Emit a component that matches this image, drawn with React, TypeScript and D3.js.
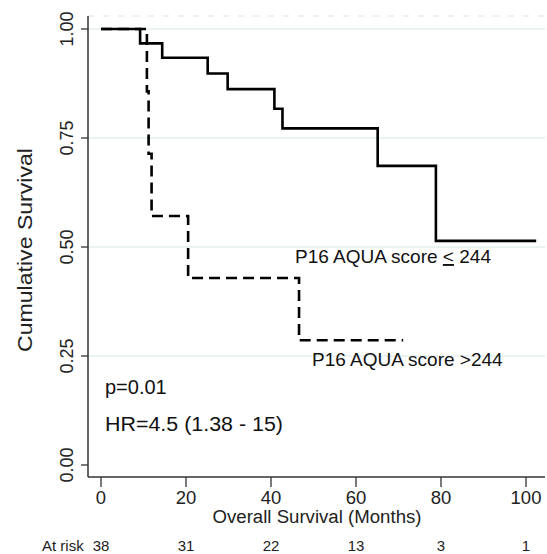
import React from "react";
import * as d3 from "d3";

const W = 547;
const H = 554;

// Kaplan-Meier step data (months, survival)
const lowTimes = [0, 9.2, 14.4, 25.1, 29.8, 40.8, 42.7, 65.1, 78.8];
const lowSurv = [1, 0.967, 0.934, 0.898, 0.862, 0.817, 0.772, 0.686, 0.514];
const lowEnd = 102.4;

const highTimes = [0, 10.8, 11.2, 11.9, 20.5, 46.6];
const highSurv = [1, 0.857, 0.714, 0.571, 0.429, 0.286];
const highEnd = 71.1;

const xTicks = [0, 20, 40, 60, 80, 100];
const yTicks = [0, 0.25, 0.5, 0.75, 1];
const yGrid = [0.25, 0.5, 0.75, 1];
const atRisk = [38, 31, 22, 13, 3, 1];

const FONT = "'Liberation Sans', Arial, sans-serif";

function stepPoints(times: number[], surv: number[], end: number): [number, number][] {
  const pts: [number, number][] = times.map((t, i) => [t, surv[i]]);
  pts.push([end, surv[surv.length - 1]]);
  return pts;
}

export default function App() {
  const x = d3.scaleLinear().domain([0, 100]).range([101, 526]);
  const y = d3.scaleLinear().domain([0, 1]).range([465, 29]);
  const plotL = 88;
  const plotR = 545;
  const plotT = 16;
  const plotB = 477;

  const line = d3
    .line<[number, number]>()
    .x((d) => x(d[0]))
    .y((d) => y(d[1]))
    .curve(d3.curveStepAfter);

  const lowPath = line(stepPoints(lowTimes, lowSurv, lowEnd)) || "";
  const highPath = line(stepPoints(highTimes, highSurv, highEnd)) || "";

  return (
    <svg
      width={W}
      height={H}
      style={{ position: "absolute", left: 0, top: 0, background: "#fff" }}
      fontFamily={FONT}
    >
      <rect x={0} y={0} width={W} height={H} fill="#fff" />
      {/* top dashed border */}
      <line x1={plotL} x2={plotR} y1={plotT} y2={plotT} stroke="#e0e0e0" strokeWidth={1} strokeDasharray="6,9" />
      {/* gridlines */}
      {yGrid.map((v) => (
        <line key={v} x1={plotL} x2={plotR} y1={y(v)} y2={y(v)} stroke="#e4eeee" strokeWidth={1.3} />
      ))}
      {/* axes */}
      <line x1={plotL} x2={plotL} y1={plotT} y2={plotB} stroke="#333" strokeWidth={1.5} />
      <line x1={plotL} x2={plotR} y1={plotB} y2={plotB} stroke="#333" strokeWidth={1.5} />
      {yTicks.map((v) => (
        <g key={v}>
          <line x1={81} x2={plotL} y1={y(v)} y2={y(v)} stroke="#333" strokeWidth={1.3} />
          <text
            transform={`translate(73,${y(v)}) rotate(-90)`}
            textAnchor="middle"
            fontSize={18}
            fill="#222"
          >
            {d3.format(".2f")(v)}
          </text>
        </g>
      ))}
      {xTicks.map((v, i) => (
        <g key={v}>
          <line x1={x(v)} x2={x(v)} y1={plotB} y2={487} stroke="#333" strokeWidth={1.3} />
          <text x={x(v)} y={504} textAnchor="middle" fontSize={18.5} fill="#222">
            {v}
          </text>
          <text x={x(v)} y={551} textAnchor="middle" fontSize={15} fill="#222">
            {atRisk[i]}
          </text>
        </g>
      ))}
      <text x={42} y={551} fontSize={15} fill="#222">At risk</text>
      <text x={317} y={523} textAnchor="middle" fontSize={18} fill="#222" textLength={209} lengthAdjust="spacingAndGlyphs">
        Overall Survival (Months)
      </text>
      <text
        transform={`translate(32,250) rotate(-90)`}
        textAnchor="middle"
        fontSize={21}
        fill="#222"
        textLength={204}
        lengthAdjust="spacingAndGlyphs"
      >
        Cumulative Survival
      </text>
      {/* curves */}
      <path d={highPath} fill="none" stroke="#000" strokeWidth={2.6} strokeDasharray="11,6" />
      <path d={lowPath} fill="none" stroke="#000" strokeWidth={2.6} />
      {/* labels */}
      <text x={295} y={263} fontSize={19} fill="#111">
        P16 AQUA score <tspan textDecoration="underline" style={{ textDecoration: "underline" }}>{"<"}</tspan> 244
      </text>
      <text x={312} y={366} fontSize={19} fill="#111">
        P16 AQUA score &gt;244
      </text>
      <text x={105} y={394} fontSize={20} fill="#111">p=0.01</text>
      <text x={105} y={431} fontSize={20} fill="#111" textLength={178} lengthAdjust="spacingAndGlyphs">
        HR=4.5 (1.38 - 15)
      </text>
    </svg>
  );
}
